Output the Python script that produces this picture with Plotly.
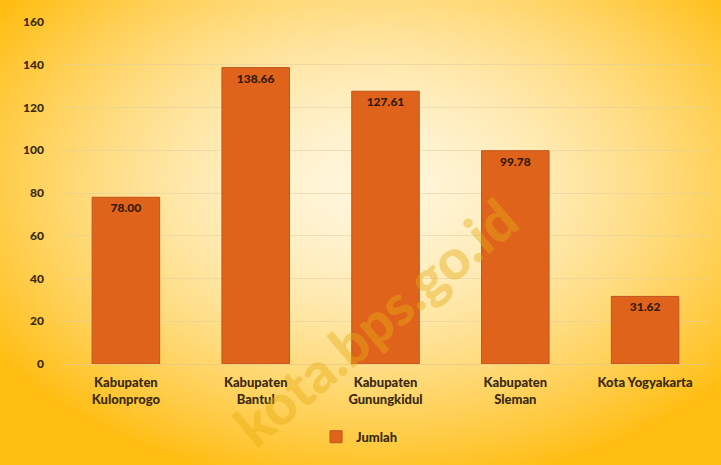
import base64
import struct
import zlib

import numpy as np
import plotly.graph_objects as go

# Data
categories = [
    "Kabupaten<br>Kulonprogo",
    "Kabupaten<br>Bantul",
    "Kabupaten<br>Gunungkidul",
    "Kabupaten<br>Sleman",
    "Kota Yogyakarta",
]
jumlah = [78.00, 138.66, 127.61, 99.78, 31.62]
y_ticks = [0, 20, 40, 60, 80, 100, 120, 140, 160]
series_name = "Jumlah"
watermark = "kota.bps.go.id"


def png_uri(rgb):
    """Encode an HxWx3 uint8 array as a PNG data URI."""
    h, w, _ = rgb.shape
    raw = b"".join(b"\x00" + rgb[r].tobytes() for r in range(h))

    def chunk(tag, data):
        c = tag + data
        return struct.pack(">I", len(data)) + c + struct.pack(">I", zlib.crc32(c) & 0xFFFFFFFF)

    png = (b"\x89PNG\r\n\x1a\n"
           + chunk(b"IHDR", struct.pack(">IIBBBBB", w, h, 8, 2, 0, 0, 0))
           + chunk(b"IDAT", zlib.compress(raw, 9))
           + chunk(b"IEND", b""))
    return "data:image/png;base64," + base64.b64encode(png).decode()


# Radial cream-to-gold background
W, H = 180, 116
xx, yy = np.meshgrid(np.linspace(0, 1, W), np.linspace(0, 1, H))
d = np.sqrt(((xx - 0.52) / 0.64) ** 2 + ((yy - 0.40) / 0.66) ** 2)
t = np.clip(d, 0, 1) ** 1.6
inner = np.array([255, 246, 220], dtype=float)
outer = np.array([255, 190, 18], dtype=float)
bg = (inner[None, None, :] * (1 - t[..., None]) + outer[None, None, :] * t[..., None]).astype(np.uint8)

fig = go.Figure()
fig.add_trace(go.Bar(
    x=categories,
    y=jumlah,
    name=series_name,
    width=0.52,
    marker=dict(color="#E0631B", line=dict(color="#BF541D", width=1)),
    text=[f"{v:.2f}" for v in jumlah],
    textposition="inside",
    insidetextanchor="end",
    textangle=0,
    textfont=dict(family="Lato", size=12, color="#341A06", weight=900),
    showlegend=True,
))

fig.add_layout_image(dict(
    source=png_uri(bg), xref="paper", yref="paper",
    x=-61 / 649, y=1 + 22 / 342, sizex=721 / 649, sizey=465 / 342,
    xanchor="left", yanchor="top", sizing="stretch", layer="below",
))

fig.add_annotation(
    text=watermark, xref="paper", yref="paper", x=0.484, y=0.125,
    xanchor="center", yanchor="middle",
    showarrow=False, textangle=-40,
    font=dict(family="Lato", size=56, color="rgba(228,172,20,0.42)", weight=900),
)

fig.update_layout(
    width=721, height=465,
    margin=dict(l=61, r=11, t=22, b=101),
    paper_bgcolor="#FFD24A",
    plot_bgcolor="rgba(0,0,0,0)",
    font=dict(family="Lato", color="#3A2A12"),
    bargap=0.48,
    legend=dict(
        orientation="h", x=0.46, xanchor="center", y=-0.213, yanchor="middle",
        font=dict(family="Lato", size=13, color="#3A2A12", weight=900),
        bgcolor="rgba(0,0,0,0)", itemwidth=30,
    ),
    xaxis=dict(
        showgrid=False, showline=True, linecolor="rgba(230,200,140,0.7)",
        tickfont=dict(family="Lato", size=13, color="#3A2A12", weight=900),
        ticks="", ticklabelstandoff=6,
    ),
    yaxis=dict(
        range=[0, 160], tickvals=y_ticks, showgrid=True,
        gridcolor="rgba(225,205,160,0.55)", gridwidth=1, zeroline=False,
        tickfont=dict(family="Lato", size=12, color="#3A2A12", weight=900),
        ticks="", ticklabelstandoff=16,
    ),
)

fig.write_html("out.html")
